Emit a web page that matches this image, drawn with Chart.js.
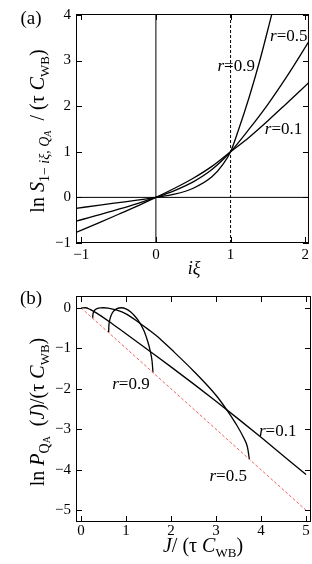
<!DOCTYPE html>
<html>
<head>
<meta charset="utf-8">
<script src="https://cdn.jsdelivr.net/npm/chart.js@4.4.0/dist/chart.umd.min.js"></script>
<style>
html, body { margin: 0; padding: 0; background: #fff; }
#wrap { position: relative; width: 312px; height: 564px; }
.box { position: absolute; left: 0; width: 312px; height: 282px; }
</style>
</head>
<body>
<div id="wrap">
  <div class="box" style="top:0"><canvas id="chartA" width="312" height="282"></canvas></div>
  <div class="box" style="top:282px"><canvas id="chartB" width="312" height="282"></canvas></div>
</div>
<script>
// panel (a): ln S / (tau C_WB) against i*xi
var xiA   = [-1.07, -0.75, -0.5, -0.25, 0, 0.25, 0.5, 0.75, 1, 1.25, 1.5, 1.75, 2.05];
var sR01  = [-0.77, -0.55, -0.37, -0.19, 0, 0.2, 0.42, 0.68, 1, 1.32, 1.68, 2.06, 2.52];
var sR05  = [-0.52, -0.38, -0.26, -0.135, 0, 0.15, 0.34, 0.61, 1, 1.5, 2.04, 2.64, 3.42];
var xiA09 = [-1.07, -0.75, -0.5, -0.25, 0, 0.25, 0.5, 0.75, 0.9, 1, 1.1, 1.25, 1.4, 1.55];
var sR09  = [-0.24, -0.17, -0.115, -0.06, 0, 0.07, 0.2, 0.45, 0.73, 1, 1.45, 2.2, 3.05, 4.0];
var ticksXA = [-1, 0, 1, 2];
var ticksYA = [-1, 0, 1, 2, 3, 4];

// panel (b): ln P_QA(J) / (tau C_WB) against J / (tau C_WB)
var jR01 = [0.005, 0.03, 0.1, 0.2, 0.4, 0.7, 1.0, 1.5, 2.0, 2.5, 3.0, 3.5, 4.0, 4.5, 5.0];
var pR01 = [-0.005, -0.003, 0, -0.04, -0.17, -0.4, -0.64, -1.05, -1.46, -1.88, -2.31, -2.75, -3.2, -3.66, -4.12];
var jR05 = [0.26, 0.265, 0.28, 0.31, 0.36, 0.43, 0.5, 0.6, 0.8, 1.0, 1.27, 1.5, 1.76, 2.0, 2.5, 3.0, 3.22, 3.45, 3.6, 3.7, 3.74];
var pR05 = [-0.26, -0.18, -0.11, -0.055, -0.02, -0.003, 0, -0.01, -0.06, -0.15, -0.35, -0.54, -0.77, -1.02, -1.56, -2.16, -2.49, -2.88, -3.18, -3.45, -3.74];
var jR09 = [0.615, 0.62, 0.635, 0.667, 0.72, 0.8, 0.9, 1.0, 1.1, 1.2, 1.3, 1.4, 1.48, 1.54, 1.58, 1.6];
var pR09 = [-0.615, -0.45, -0.33, -0.2, -0.09, -0.02, 0, -0.03, -0.1, -0.21, -0.36, -0.57, -0.82, -1.07, -1.32, -1.6];
var jBound = [0, 5];
var pBound = [0, -5];
var ticksXB = [0, 1, 2, 3, 4, 5];
var ticksYB = [0, -1, -2, -3, -4, -5];

var FONT = '"Liberation Serif", "DejaVu Serif", serif';

function pts(xs, ys) {
  return xs.map(function (x, i) { return { x: x, y: ys[i] }; });
}
function fmt(v) { return String(v).replace('-', '\u2212'); }

function curve(xs, ys) {
  return { data: pts(xs, ys), borderColor: '#000', borderWidth: 1.3, pointRadius: 0,
           cubicInterpolationMode: 'monotone', fill: false };
}
function rule(data, dash, color) {
  return { data: data, borderColor: color || '#000', borderWidth: 1, pointRadius: 0,
           borderDash: dash || [], fill: false };
}

// draw a run of text pieces [text, size, italic, dy] centred on (cx, cy)
function drawRich(ctx, parts, cx, cy, angle) {
  var w = 0;
  parts.forEach(function (p) {
    ctx.font = (p[2] ? 'italic ' : '') + p[1] + 'px ' + FONT;
    w += ctx.measureText(p[0]).width;
  });
  ctx.save();
  ctx.translate(cx, cy);
  ctx.rotate(angle || 0);
  ctx.textAlign = 'left';
  ctx.textBaseline = 'alphabetic';
  ctx.fillStyle = '#000';
  var x = -w / 2;
  parts.forEach(function (p) {
    ctx.font = (p[2] ? 'italic ' : '') + p[1] + 'px ' + FONT;
    ctx.fillText(p[0], x, p[3] || 0);
    x += ctx.measureText(p[0]).width;
  });
  ctx.restore();
}

var framePlugin = {
  id: 'frame',
  afterDatasetsDraw: function (chart, args, o) {
    var ctx = chart.ctx, a = chart.chartArea, sx = chart.scales.x, sy = chart.scales.y;
    ctx.save();
    ctx.strokeStyle = '#000';
    ctx.lineWidth = 1;
    ctx.strokeRect(a.left + 0.5, a.top + 0.5, a.right - a.left - 1, a.bottom - a.top - 1);
    ctx.beginPath();
    sx.ticks.forEach(function (t) {
      var px = Math.round(sx.getPixelForValue(t.value)) + 0.5;
      ctx.moveTo(px, a.bottom); ctx.lineTo(px, a.bottom - 6);
      ctx.moveTo(px, a.top); ctx.lineTo(px, a.top + 6);
    });
    sy.ticks.forEach(function (t) {
      var py = Math.round(sy.getPixelForValue(t.value)) + 0.5;
      ctx.moveTo(a.left, py); ctx.lineTo(a.left + 6, py);
      ctx.moveTo(a.right, py); ctx.lineTo(a.right - 6, py);
    });
    ctx.stroke();
    ctx.restore();

    o.notes.forEach(function (n) {
      drawRich(ctx, [['r', 17, true, 0], ['=' + n.text, 17, false, 0]],
               sx.getPixelForValue(n.x), sy.getPixelForValue(n.y) + 5, 0);
    });
    drawRich(ctx, [[o.panel, 19, false, 0]], 31, o.panelY, 0);
    drawRich(ctx, o.yTitle, 44, o.yTitleY, -Math.PI / 2);
    drawRich(ctx, o.xTitle, o.xTitleX, o.xTitleY, 0);
  }
};

function makeChart(id, datasets, xr, yr, xt, yt, pad, xH, xPad, frame) {
  return new Chart(document.getElementById(id).getContext('2d'), {
    type: 'line',
    data: { datasets: datasets },
    options: {
      responsive: false,
      animation: false,
      devicePixelRatio: 1,
      layout: { padding: pad },
      plugins: { legend: { display: false }, tooltip: { enabled: false }, frame: frame },
      scales: {
        x: {
          type: 'linear', min: xr[0], max: xr[1],
          grid: { display: false, drawTicks: false }, border: { display: false },
          afterBuildTicks: function (s) { s.ticks = xt.map(function (v) { return { value: v }; }); },
          afterFit: function (s) { s.height = xH; },
          ticks: { color: '#000', font: { family: FONT, size: 15 }, padding: xPad,
                   maxRotation: 0, autoSkip: false, callback: fmt }
        },
        y: {
          type: 'linear', min: yr[0], max: yr[1],
          grid: { display: false, drawTicks: false }, border: { display: false },
          afterBuildTicks: function (s) { s.ticks = yt.map(function (v) { return { value: v }; }); },
          afterFit: function (s) { s.width = 76; },
          ticks: { color: '#000', font: { family: FONT, size: 15 }, padding: 5,
                   autoSkip: false, callback: fmt }
        }
      }
    },
    plugins: [framePlugin]
  });
}

makeChart('chartA', [
  rule([{ x: -1.07, y: 0 }, { x: 2.05, y: 0 }]),
  rule([{ x: 0, y: -1 }, { x: 0, y: 4.02 }]),
  rule([{ x: 1, y: -1 }, { x: 1, y: 4.02 }], [3, 2]),
  curve(xiA, sR01),
  curve(xiA, sR05),
  curve(xiA09, sR09)
], [-1.07, 2.05], [-1, 4.02], ticksXA, ticksYA,
{ left: 0, right: 1, top: 8, bottom: 0 }, 39, 3, {
  panel: '(a)', panelY: 24,
  notes: [{ text: '0.5', x: 1.78, y: 3.53 }, { text: '0.9', x: 1.075, y: 2.87 }, { text: '0.1', x: 1.71, y: 1.5 }],
  yTitle: [['ln ', 20, false, 0], ['S', 20, true, 0], ['1\u2212 ', 14, false, 5], ['i\u03be', 14, true, 5],
           [', ', 14, false, 5], ['Q', 14, true, 5], ['A', 10, true, 7], ['  / (\u03c4 ', 20, false, 0],
           ['C', 20, true, 0], ['WB', 13, false, 5], [')', 20, false, 0]],
  yTitleY: 131,
  xTitle: [['i\u03be', 18, true, 0]], xTitleX: 194, xTitleY: 274
});

makeChart('chartB', [
  rule(pts(jBound, pBound), [3, 2], '#f06060'),
  curve(jR01, pR01),
  curve(jR05, pR05),
  curve(jR09, pR09)
], [-0.11, 5.11], [-5.29, 0.29], ticksXB, ticksYB,
{ left: 0, right: 1, top: 3, bottom: 0 }, 42, 0, {
  panel: '(b)', panelY: 22,
  notes: [{ text: '0.9', x: 1.11, y: -1.88 }, { text: '0.1', x: 4.37, y: -3.05 }, { text: '0.5', x: 3.27, y: -4.16 }],
  yTitle: [['ln ', 20, false, 0], ['P', 20, true, 0], ['Q', 14, false, 5], ['A', 10, false, 6],
           ['  (', 20, false, 0], ['J', 20, true, 0], [')/(\u03c4 ', 20, false, 0],
           ['C', 20, true, 0], ['WB', 13, false, 5], [')', 20, false, 0]],
  yTitleY: 130,
  xTitle: [['J', 20, true, 0], ['/ (\u03c4 ', 20, false, 0], ['C', 20, true, 0], ['WB', 13, false, 5], [')', 20, false, 0]],
  xTitleX: 203, xTitleY: 270
});
</script>
</body>
</html>
